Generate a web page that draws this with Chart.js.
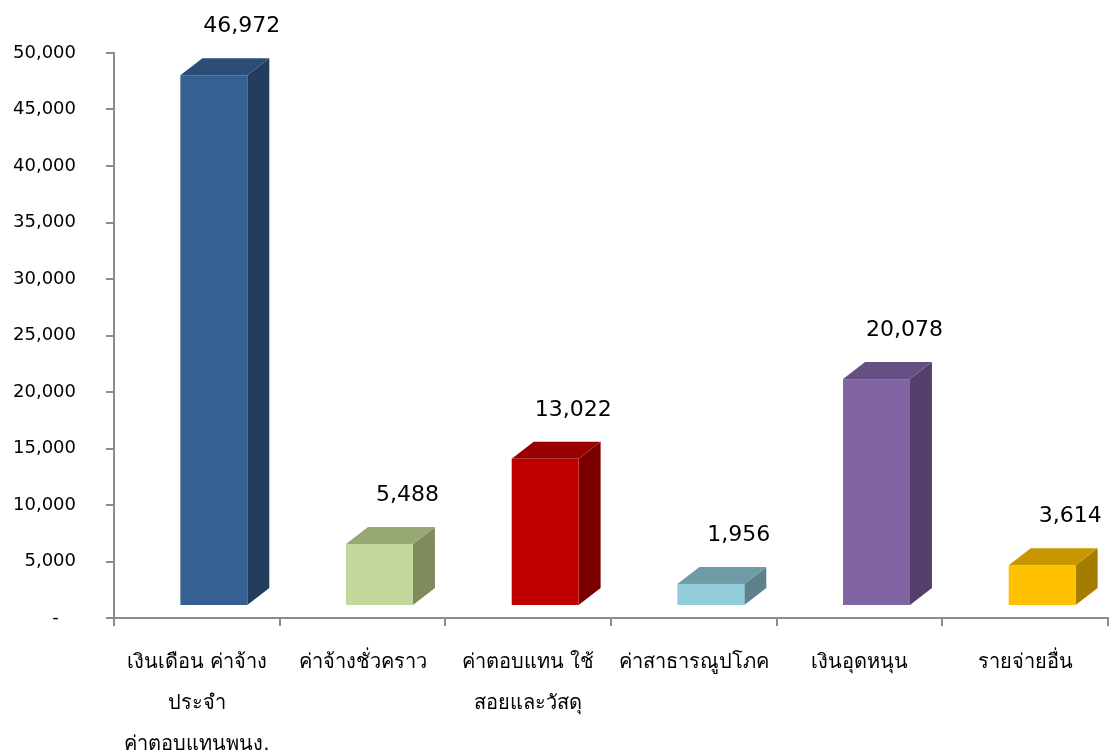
<!DOCTYPE html>
<html>
<head>
<meta charset="utf-8">
<script src="https://cdn.jsdelivr.net/npm/chart.js@4/dist/chart.umd.min.js"></script>
<style>
html,body{margin:0;padding:0;background:#fff;}
#wrap{width:1111px;height:751px;position:relative;}
</style>
</head>
<body>
<div id="wrap"><canvas id="c" width="1111" height="751"></canvas></div>
<script>
const categories = [
  ['เงินเดือน ค่าจ้าง', 'ประจำ', 'ค่าตอบแทนพนง.'],
  'ค่าจ้างชั่วคราว',
  ['ค่าตอบแทน ใช้', 'สอยและวัสดุ'],
  'ค่าสาธารณูปโภค',
  'เงินอุดหนุน',
  'รายจ่ายอื่น'
];
const values = [46972, 5488, 13022, 1956, 20078, 3614];
const frontColors = ['#376092', '#c3d69b', '#c00000', '#92cddc', '#8064a2', '#ffc000'];
const topColors   = ['#2c4d76', '#98a873', '#990000', '#6f9ba7', '#664f82', '#c99800'];
const sideColors  = ['#233d5e', '#7e8b5d', '#7a0000', '#5c838d', '#523f6a', '#a47c00'];
const yMin = 0, yMax = 50000, yStep = 5000;

const FONT = 'Tahoma, "DejaVu Sans", "Noto Sans", sans-serif';
const SHIFT_X = 17, LIFT = 12, DX = 22, DY = 17;

const bar3d = {
  id: 'bar3d',
  beforeDatasetDraw(chart, args) {
    const ctx = chart.ctx;
    const meta = args.meta;
    ctx.save();
    meta.data.forEach((el, i) => {
      const w = el.width;
      const fl = el.x + SHIFT_X - w / 2, fr = fl + w;
      const ft = el.y - LIFT, fb = el.base - LIFT;
      ctx.fillStyle = sideColors[i];
      ctx.beginPath();
      ctx.moveTo(fr, ft); ctx.lineTo(fr + DX, ft - DY); ctx.lineTo(fr + DX, fb - DY); ctx.lineTo(fr, fb);
      ctx.closePath(); ctx.fill();
      ctx.fillStyle = topColors[i];
      ctx.beginPath();
      ctx.moveTo(fl, ft); ctx.lineTo(fl + DX, ft - DY); ctx.lineTo(fr + DX, ft - DY); ctx.lineTo(fr, ft);
      ctx.closePath(); ctx.fill();
      ctx.fillStyle = frontColors[i];
      ctx.fillRect(fl, ft, w, fb - ft);
    });
    ctx.restore();
    return false;
  },
  afterDraw(chart) {
    const ctx = chart.ctx;
    const meta = chart.getDatasetMeta(0);
    ctx.save();
    ctx.font = '22px ' + FONT;
    ctx.fillStyle = '#000';
    ctx.textAlign = 'center';
    ctx.textBaseline = 'middle';
    meta.data.forEach((el, i) => {
      ctx.fillText(values[i].toLocaleString('en-US'), el.x + 45, el.y - LIFT - DY - 32);
    });
    ctx.restore();
  }
};

new Chart(document.getElementById('c'), {
  type: 'bar',
  data: {
    labels: categories,
    datasets: [{
      data: values,
      backgroundColor: frontColors,
      barPercentage: 0.404,
      categoryPercentage: 1.0
    }]
  },
  options: {
    responsive: false,
    animation: false,
    layout: { padding: { top: 53, right: 3, left: 0, bottom: 0 } },
    plugins: { legend: { display: false }, tooltip: { enabled: false } },
    scales: {
      x: {
        grid: { display: true, drawOnChartArea: false, drawTicks: true, tickLength: 8, color: '#8c8c8c', lineWidth: 2, offset: true },
        border: { display: true, color: '#8c8c8c', width: 2 },
        ticks: { color: '#000', font: { family: FONT, size: 20, lineHeight: 2.05 }, padding: 16, maxRotation: 0, autoSkip: false },
        afterFit(s) { s.height = 133; }
      },
      y: {
        min: yMin, max: yMax,
        grid: { display: true, drawOnChartArea: false, drawTicks: true, tickLength: 8, color: '#8c8c8c', lineWidth: 2 },
        border: { display: true, color: '#8c8c8c', width: 2 },
        ticks: {
          stepSize: yStep, color: '#000', padding: 30,
          font: { family: FONT, size: 18 },
          callback: v => v === 0 ? '-   ' : v.toLocaleString('en-US')
        },
        afterFit(s) { s.width = 114; }
      }
    }
  },
  plugins: [bar3d]
});
</script>
</body>
</html>
